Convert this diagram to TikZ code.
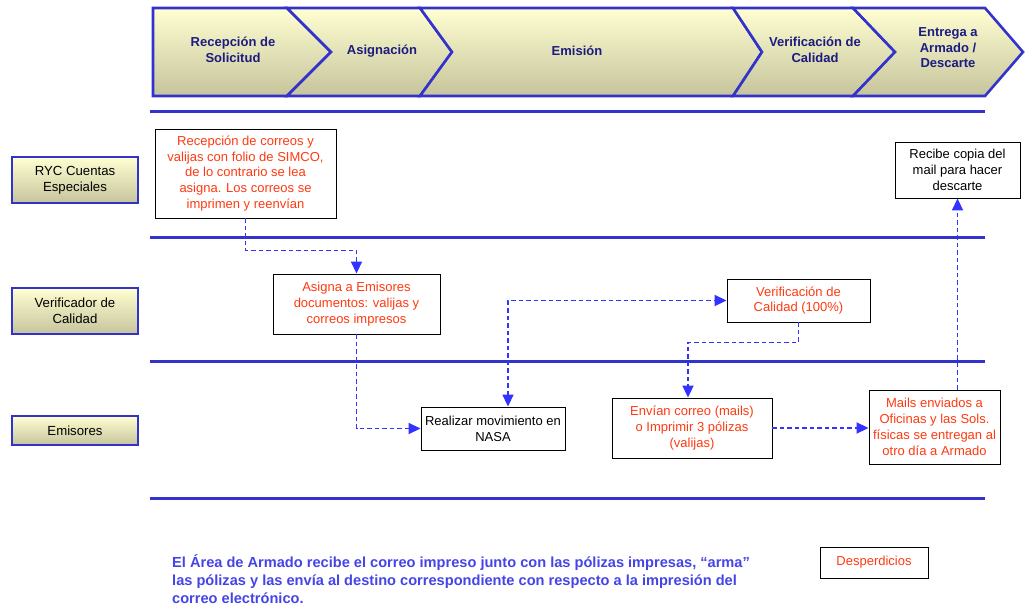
\documentclass[tikz,border=0pt]{standalone}
\usepackage{fontspec}
\setmainfont{Liberation Sans}
\usepackage{tikz}
\usetikzlibrary{arrows.meta,positioning,calc}
\definecolor{rycEdge}{HTML}{3333CC}
\definecolor{rycFlow}{HTML}{3333FF}
\definecolor{rycRed}{HTML}{FF3A12}
\definecolor{rycNavy}{HTML}{1C1C80}
\definecolor{rycTop}{HTML}{FFFFD2}
\definecolor{rycBot}{HTML}{C6C49C}
\definecolor{rycNote}{HTML}{4444E8}
\tikzset{
  rycphase/.style={draw=rycEdge,line width=2.6pt,line join=miter,top color=rycTop,bottom color=rycBot},
  rycphasetxt/.style={text=rycNavy,align=center,font=\fontsize{13}{15.5}\selectfont\bfseries,inner sep=0pt},
  ryclane/.style={draw=rycEdge,line width=2.8pt,top color=rycTop,bottom color=rycBot,align=center,
              inner sep=2pt,font=\fontsize{13.2}{16}\selectfont,minimum width=126pt},
  rycstep/.style={draw=black,line width=0.9pt,fill=white,text=rycRed,align=center,inner sep=1pt,
              font=\fontsize{13}{15.8}\selectfont},
  rycplain/.style={rycstep,text=black},
  rycsep/.style={draw=rycEdge,line width=3pt},
  rycflow/.style={-{Triangle[length=12pt,width=11pt]},draw=rycFlow,line width=1.8pt,dash pattern=on 4.5pt off 3pt},
  rycnote/.style={text=rycNote,align=left,font=\fontsize{14.6}{18}\selectfont\bfseries,inner sep=0pt},
}
\begin{document}
\begin{tikzpicture}[x=1pt,y=-1pt]
  \useasboundingbox (0,0) rectangle (1025,607);

  % phases along the top
  \path[rycphase] (153,8) -- (287,8) -- (331,52) -- (287,96) -- (153,96) -- cycle;
  \path[rycphase] (287,8) -- (420,8) -- (452,52) -- (420,96) -- (287,96) -- (331,52) -- cycle;
  \path[rycphase] (420,8) -- (733,8) -- (762,52) -- (733,96) -- (420,96) -- (452,52) -- cycle;
  \path[rycphase] (733,8) -- (853,8) -- (895,52) -- (853,96) -- (733,96) -- (762,52) -- cycle;
  \path[rycphase] (853,8) -- (985,8) -- (1023,52) -- (985,96) -- (853,96) -- (895,52) -- cycle;
  \node[rycphasetxt] (P1) at (233,50) {Recepción de\\Solicitud};
  \node[rycphasetxt] (P2) at (382,51) {Asignación};
  \node[rycphasetxt] (P3) at (577,51) {Emisión};
  \node[rycphasetxt] (P4) at (815,50) {Verificación de\\Calidad};
  \node[rycphasetxt] (P5) at (948,48) {Entrega a\\Armado /\\Descarte};

  % lanes
  \draw[rycsep] (150,112) -- (985,112);
  \draw[rycsep] (150,237) -- (985,237);
  \draw[rycsep] (150,361) -- (985,361);
  \draw[rycsep] (150,498) -- (985,498);
  \node[ryclane,minimum height=46pt] (L1) at (75,180) {RYC Cuentas\\Especiales};
  \node[ryclane,minimum height=46pt] (L2) at (75,311) {Verificador de\\Calidad};
  \node[ryclane,minimum height=29pt] (L3) at (75,430.5) {Emisores};

  % steps
  \node[rycstep,minimum width=181pt,minimum height=89pt] (S1) at (245.5,173.5)
        {Recepción de correos y\\valijas con folio de SIMCO,\\de lo contrario se lea\\asigna. Los correos se\\imprimen y reenvían};
  \node[rycplain,minimum width=125pt,minimum height=56pt] (S7) at (957.5,170)
        {Recibe copia del\\mail para hacer\\descarte};
  \node[rycstep,minimum width=167pt,minimum height=60pt] (S2) at (356.5,304)
        {Asigna a Emisores\\documentos: valijas y\\correos impresos};
  \node[rycstep,minimum width=143pt,minimum height=43pt] (S4) at (798.5,300.5)
        {Verificación de\\Calidad (100\%)};
  \node[rycplain,minimum width=144pt,minimum height=43pt] (S3) at (493,428.5)
        {Realizar movimiento en\\NASA};
  \node[rycstep,minimum width=160pt,minimum height=60pt] (S5) at (692,428)
        {Envían correo (mails)\\o Imprimir 3 pólizas\\(valijas)};
  \node[rycstep,minimum width=131pt,minimum height=74pt] (S6) at (934.5,427)
        {Mails enviados a\\Oficinas y las Sols.\\físicas se entregan al\\otro día a Armado};
  \node[rycstep,minimum width=108pt,minimum height=31pt] (D) at (874,562.5) {Desperdicios};

  \node[rycnote,anchor=north west] (N) at (172,554)
        {El Área de Armado recibe el correo impreso junto con las pólizas impresas, “arma”\\
         las pólizas y las envía al destino correspondiente con respecto a la impresión del\\
         correo electrónico.};

  % flow
  \draw[rycflow] (S1.south) -- ++(0,32) -| (S2.north);
  \draw[rycflow] (S2.south) |- (S3.west);
  \draw[rycflow,{Triangle[length=12pt,width=11pt]}-{Triangle[length=12pt,width=11pt]}]
        ([xshift=15pt]S3.north) |- (S4.west);
  \draw[rycflow] (S4.south) -- ++(0,20) -| ([xshift=-4pt]S5.north);
  \draw[rycflow] (S5.east) -- (S5.east -| S6.west);
  \draw[rycflow] (S7.south |- S6.north) -- (S7.south);
\end{tikzpicture}
\end{document}
